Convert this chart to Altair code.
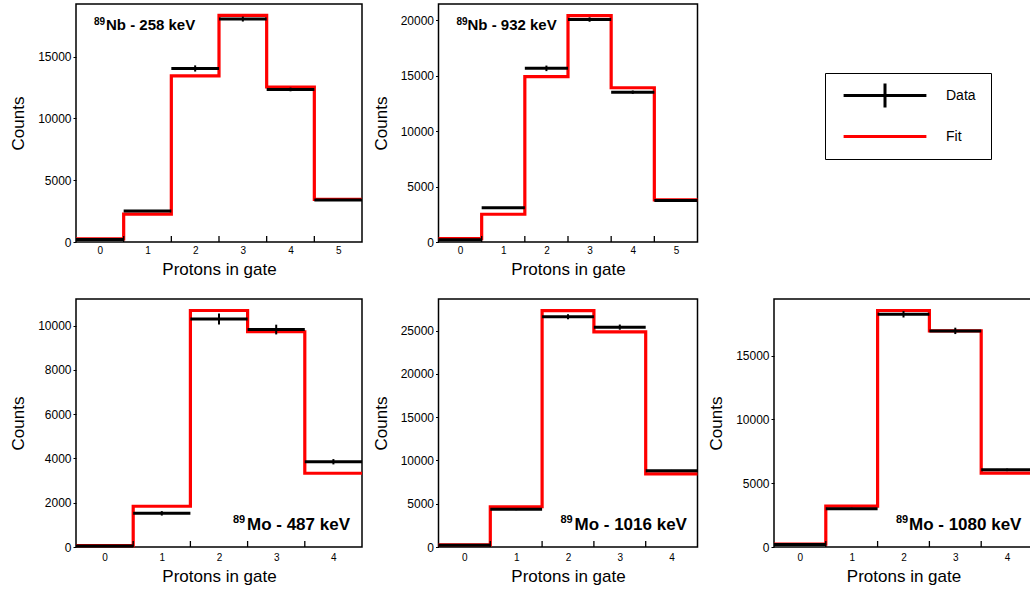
import altair as alt
import pandas as pd

FONT = "Liberation Sans"

# ---------------- data ----------------
bins_nb = [0, 1, 2, 3, 4, 5]
bins_mo = [0, 1, 2, 3, 4]

nb258_data = [200, 2500, 14050, 18050, 12350, 3400]
nb258_err = [40, 60, 250, 200, 150, 80]
nb258_fit = [250, 2250, 13450, 18350, 12550, 3450]
nb258_ymax = 19270
nb258_ticks = [0, 5000, 10000, 15000]

nb932_data = [200, 3080, 15650, 20050, 13500, 3750]
nb932_err = [40, 60, 250, 200, 150, 80]
nb932_fit = [300, 2500, 14900, 20400, 13900, 3800]
nb932_ymax = 21450
nb932_ticks = [0, 5000, 10000, 15000, 20000]

mo487_data = [40, 1520, 10300, 9820, 3850]
mo487_err = [20, 100, 250, 220, 120]
mo487_fit = [60, 1840, 10680, 9720, 3330]
mo487_ymax = 11200
mo487_ticks = [0, 2000, 4000, 6000, 8000, 10000]

mo1016_data = [200, 4350, 26600, 25400, 8800]
mo1016_err = [40, 100, 300, 300, 100]
mo1016_fit = [250, 4650, 27300, 24850, 8450]
mo1016_ymax = 28650
mo1016_ticks = [0, 5000, 10000, 15000, 20000, 25000]

mo1080_data = [200, 3000, 18250, 16950, 6050]
mo1080_err = [40, 80, 250, 250, 100]
mo1080_fit = [220, 3200, 18550, 16950, 5800]
mo1080_ymax = 19450
mo1080_ticks = [0, 5000, 10000, 15000]

labels_mass = ["89", "89", "89", "89", "89"]
labels_main = ["Nb - 258 keV", "Nb - 932 keV", "Mo - 487 keV", "Mo - 1016 keV", "Mo - 1080 keV"]
series_names = ["Data", "Fit"]
x_title = "Protons in gate"
y_title = "Counts"


def panel(bins, data, err, fit, ymax, yticks, mass, main, w, h, ann, lab_pad, tit_pad):
    df = pd.DataFrame({
        "bin": bins,
        "lo": [b - 0.5 for b in bins],
        "hi": [b + 0.5 for b in bins],
        "counts": data,
        "low": [d - e for d, e in zip(data, err)],
        "high": [d + e for d, e in zip(data, err)],
    })
    fit_df = pd.DataFrame({
        "edge": [b - 0.5 for b in bins] + [bins[-1] + 0.5],
        "fit": fit + [fit[-1]],
    })
    edge_df = pd.DataFrame({"edge": [b + 0.5 for b in bins[:-1]]})

    xscale = alt.Scale(domain=[bins[0] - 0.5, bins[-1] + 0.5], nice=False, zero=False)
    yscale = alt.Scale(domain=[0, ymax], nice=False, zero=True)
    xaxis = alt.Axis(values=bins, format="d", title=x_title, ticks=False, domain=False, grid=False,
                     labelFont=FONT, labelFontSize=10, labelColor="black", labelPadding=lab_pad,
                     titleFont=FONT, titleFontSize=17, titleFontWeight="normal", titleColor="black",
                     titlePadding=tit_pad)
    yaxis = alt.Axis(values=yticks, format="d", title=y_title, domain=False, grid=False,
                     tickSize=3, tickColor="black", tickWidth=1,
                     labelFont=FONT, labelFontSize=12, labelColor="black", labelPadding=2,
                     titleFont=FONT, titleFontSize=17, titleFontWeight="normal", titleColor="black",
                     titlePadding=10)

    fit_line = alt.Chart(fit_df).mark_line(interpolate="step-after", color="#ff0000", strokeWidth=3.2).encode(
        x=alt.X("edge:Q", scale=xscale, axis=xaxis),
        y=alt.Y("fit:Q", scale=yscale, axis=yaxis),
    )
    bars = alt.Chart(df).mark_rule(color="black", strokeWidth=3).encode(
        x=alt.X("lo:Q", scale=xscale, axis=xaxis),
        x2="hi:Q",
        y=alt.Y("counts:Q", scale=yscale, axis=yaxis),
    )
    errs = alt.Chart(df).mark_rule(color="black", strokeWidth=2).encode(
        x=alt.X("bin:Q", scale=xscale, axis=xaxis),
        y=alt.Y("low:Q", scale=yscale, axis=yaxis),
        y2="high:Q",
    )
    ticks = alt.Chart(edge_df).mark_rule(color="black", strokeWidth=1.3).encode(
        x=alt.X("edge:Q", scale=xscale, axis=xaxis),
        y=alt.value(h),
        y2=alt.value(h - 6),
    )
    sup = alt.Chart(pd.DataFrame({"t": [mass]})).mark_text(
        font=FONT, fontSize=ann["sup_size"], fontWeight="bold", align="left", baseline="alphabetic", color="black"
    ).encode(x=alt.value(ann["sup_x"]), y=alt.value(ann["sup_y"]), text="t:N")
    txt = alt.Chart(pd.DataFrame({"t": [main]})).mark_text(
        font=FONT, fontSize=ann["size"], fontWeight="bold", align="left", baseline="alphabetic", color="black"
    ).encode(x=alt.value(ann["x"]), y=alt.value(ann["y"]), text="t:N")
    return alt.layer(fit_line, bars, errs, ticks, sup, txt).properties(width=w, height=h)


W1, W2, W3 = 286, 259, 259
H1, H2 = 238, 248

top_ann1 = {"sup_x": 18, "sup_y": 21, "sup_size": 10, "x": 30, "y": 26, "size": 15}
top_ann2 = {"sup_x": 18, "sup_y": 21, "sup_size": 10, "x": 29, "y": 26, "size": 15}
bot_ann3 = {"sup_x": 157, "sup_y": 224, "sup_size": 11, "x": 171, "y": 231, "size": 17}
bot_ann4 = {"sup_x": 122, "sup_y": 224, "sup_size": 11, "x": 136, "y": 231, "size": 17}
bot_ann5 = {"sup_x": 122, "sup_y": 224, "sup_size": 11, "x": 135, "y": 231, "size": 17}

p1 = panel(bins_nb, nb258_data, nb258_err, nb258_fit, nb258_ymax, nb258_ticks,
           labels_mass[0], labels_main[0], W1, H1, top_ann1, 3, 6)
p2 = panel(bins_nb, nb932_data, nb932_err, nb932_fit, nb932_ymax, nb932_ticks,
           labels_mass[1], labels_main[1], W2, H1, top_ann2, 3, 6)
p3 = panel(bins_mo, mo487_data, mo487_err, mo487_fit, mo487_ymax, mo487_ticks,
           labels_mass[2], labels_main[2], W1, H2, bot_ann3, 5, 6)
p4 = panel(bins_mo, mo1016_data, mo1016_err, mo1016_fit, mo1016_ymax, mo1016_ticks,
           labels_mass[3], labels_main[3], W2, H2, bot_ann4, 5, 6)
p5 = panel(bins_mo, mo1080_data, mo1080_err, mo1080_fit, mo1080_ymax, mo1080_ticks,
           labels_mass[4], labels_main[4], W3, H2, bot_ann5, 5, 6)

# legend cell (the legend itself is drawn by Vega-Lite)
path_data = "M-6.9,0H6.9M0,-2V2"
path_fit = "M-6.9,0H6.9"
leg = alt.Legend(title=None, orient="none", legendX=749, legendY=69,
                 strokeColor="black", fillColor="white", padding=15, cornerRadius=0,
                 symbolSize=144, symbolStrokeWidth=3, symbolOpacity=1, symbolOffset=37.5,
                 labelFont=FONT, labelFontSize=14, labelColor="black", labelOffset=53.5,
                 rowPadding=15)
legend_cell = alt.Chart(pd.DataFrame({"series": series_names})).mark_point(
    filled=False, opacity=0
).encode(
    color=alt.Color("series:N", scale=alt.Scale(domain=series_names, range=["black", "#ff0000"]), legend=leg),
    shape=alt.Shape("series:N", scale=alt.Scale(domain=series_names, range=[path_data, path_fit]), legend=leg),
).properties(width=W3, height=H1, view=alt.ViewBackground(stroke="transparent"))

# fixed page geometry: plot origin at (76, 4); padding fills the 1030x594 window
chart = alt.concat(
    p1, p2, legend_cell, p3, p4, p5,
    columns=3, spacing={"row": 57, "column": 76.5}, bounds="flush", align="each",
).properties(
    autosize=alt.AutoSizeParams(type="none"),
    padding={"left": 76, "top": 4, "right": 954, "bottom": 590},
    background="white",
).configure_view(
    stroke="black", strokeWidth=1.5
)

chart.save("out.html", embed_options={"renderer": "svg", "actions": False})
